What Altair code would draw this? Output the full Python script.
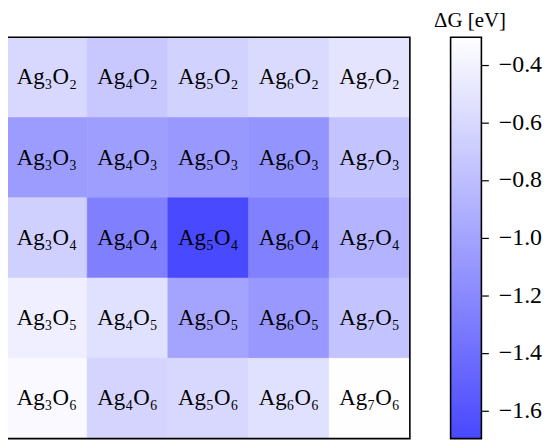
import altair as alt
import pandas as pd

# ---- data ----
ag_counts = [3, 4, 5, 6, 7]          # columns
o_counts = [2, 3, 4, 5, 6]           # rows (top to bottom)
dG_O2 = [-0.60, -0.72, -0.65, -0.59, -0.51]
dG_O3 = [-1.06, -1.04, -1.09, -1.12, -0.76]
dG_O4 = [-0.66, -1.27, -1.69, -1.26, -0.88]
dG_O5 = [-0.43, -0.54, -1.00, -1.09, -0.76]
dG_O6 = [-0.35, -0.63, -0.60, -0.54, -0.31]
dG_rows = [dG_O2, dG_O3, dG_O4, dG_O5, dG_O6]

cbar_ticks = [-1.6, -1.4, -1.2, -1.0, -0.8, -0.6, -0.4]
vmin, vmax = -1.697, -0.305
color_lo, color_hi = "#4848ff", "#ffffff"
cbar_title = "ΔG [eV]"

FONT = "Liberation Serif"
SUB = str.maketrans("0123456789", "₀₁₂₃₄₅₆₇₈₉")
W, H, CW = 406, 404, 31

records = []
for o, vals in zip(o_counts, dG_rows):
    for a, v in zip(ag_counts, vals):
        records.append({"ag": a, "o": o, "dG": v,
                        "label": f"Ag{a}O{o}".translate(SUB)})
df = pd.DataFrame(records)

cscale = alt.Scale(domain=[vmin, vmax], range=[color_lo, color_hi],
                   interpolate="rgb")

base = alt.Chart(df).encode(
    x=alt.X("ag:O", axis=None, sort=ag_counts,
            scale=alt.Scale(paddingInner=0, paddingOuter=0)),
    y=alt.Y("o:O", axis=None, sort=o_counts,
            scale=alt.Scale(paddingInner=0, paddingOuter=0)),
)
rect = base.mark_rect(strokeWidth=0.6).encode(
    color=alt.Color("dG:Q", scale=cscale, legend=None),
    stroke=alt.Stroke("dG:Q", scale=cscale, legend=None),
)
text = base.mark_text(font=FONT, fontSize=23, color="black",
                      baseline="middle").encode(text="label:N")

frame_df = pd.DataFrame({"f": [0]})
frame_heat = alt.Chart(frame_df).mark_rect(
    filled=False, stroke="black", strokeWidth=1.6
).encode(x=alt.value(0), x2=alt.value(W), y=alt.value(0), y2=alt.value(H))

heat = (rect + text + frame_heat).properties(width=W, height=H)

cbar_df = pd.DataFrame({"lo": [vmin], "hi": [vmax]})
cbar_rect = alt.Chart(cbar_df).mark_rect(
    color=alt.LinearGradient(
        gradient="linear",
        stops=[alt.GradientStop(color=color_lo, offset=0),
               alt.GradientStop(color=color_hi, offset=1)],
        x1=0, x2=0, y1=1, y2=0)
).encode(
    y=alt.Y("lo:Q",
            scale=alt.Scale(domain=[vmin, vmax], nice=False, zero=False),
            axis=alt.Axis(orient="right", values=cbar_ticks, format=".1f",
                          title=cbar_title, titleAngle=0, titleX=-12,
                          titleY=-11, titleAlign="center",
                          titleBaseline="alphabetic")),
    y2="hi:Q",
)
frame_cbar = alt.Chart(frame_df).mark_rect(
    filled=False, stroke="black", strokeWidth=1.6
).encode(x=alt.value(0), x2=alt.value(CW), y=alt.value(0), y2=alt.value(H))
cbar = (cbar_rect + frame_cbar).properties(width=CW, height=H)

chart = alt.hconcat(heat, cbar, spacing=41, bounds="flush").properties(
    padding={"left": -2.5, "top": 0, "right": 0, "bottom": 0}
).configure_view(
    stroke=None
).configure_axis(
    labelFont=FONT, labelFontSize=24, labelColor="black",
    tickColor="black", tickSize=7, tickWidth=1.2, labelPadding=10,
    domain=False, grid=False,
    titleFont=FONT, titleFontSize=21, titleFontWeight="normal",
    titleColor="black",
)

chart.save("out.html", embed_options={"renderer": "svg", "actions": False})
